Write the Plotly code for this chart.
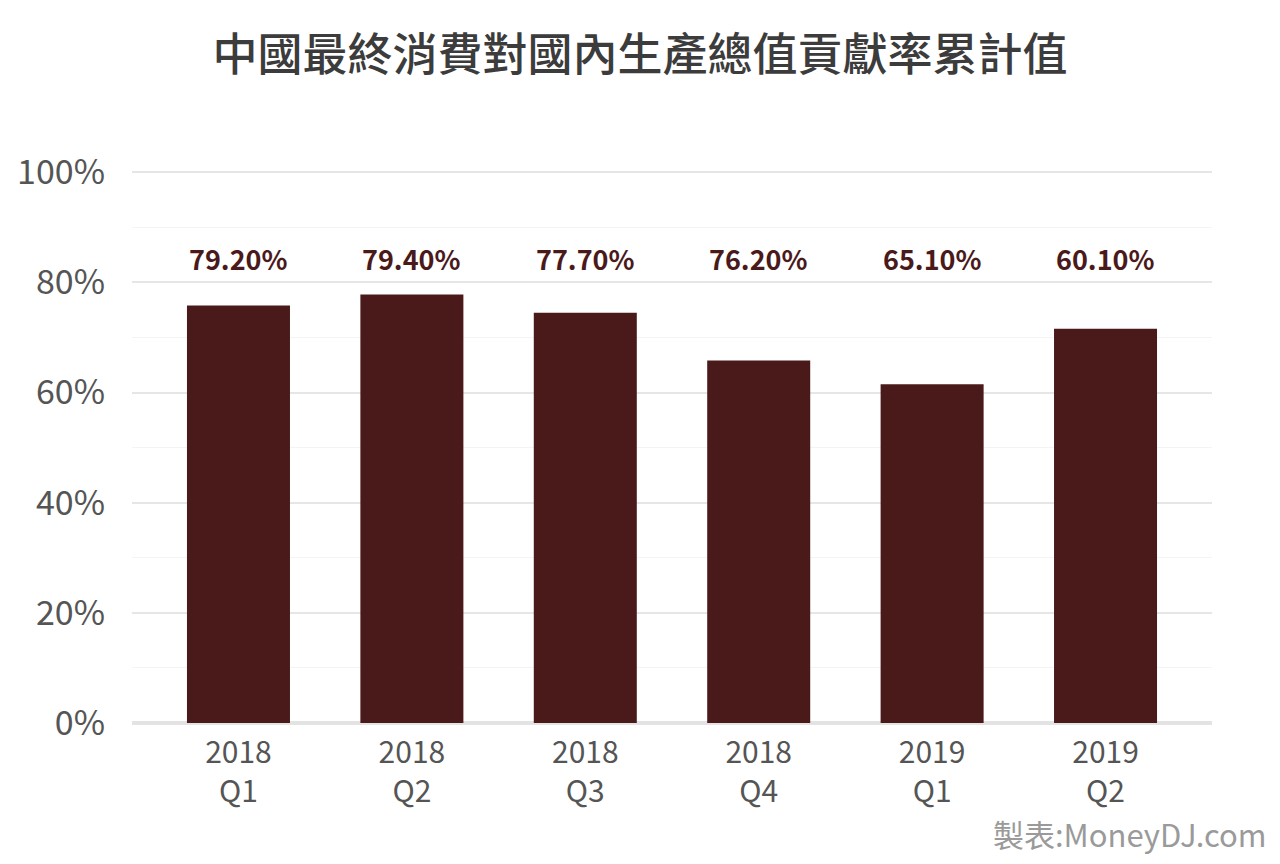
import plotly.graph_objects as go

categories = ["2018<br>Q1", "2018<br>Q2", "2018<br>Q3", "2018<br>Q4", "2019<br>Q1", "2019<br>Q2"]
bar_values = [75.8, 77.8, 74.5, 65.8, 61.5, 71.6]
label_texts = ["79.20%", "79.40%", "77.70%", "76.20%", "65.10%", "60.10%"]
label_y = 84.4
y_ticks = [0, 20, 40, 60, 80, 100]
y_tick_labels = ["0%", "20%", "40%", "60%", "80%", "100%"]

FONT = "Noto Sans CJK TC"
BAR_COLOR = "#4a1a1b"

fig = go.Figure()
fig.add_trace(go.Bar(
    x=list(range(len(categories))), y=bar_values,
    marker=dict(color=BAR_COLOR, line=dict(width=0)),
    width=0.594, hoverinfo="skip",
))

for i, t in enumerate(label_texts):
    fig.add_annotation(x=i, y=label_y, text=f"<b>{t}</b>", showarrow=False,
                       font=dict(family=FONT, size=27, color=BAR_COLOR),
                       xref="x", yref="y")

fig.add_annotation(text="製表:MoneyDJ.com", xref="paper", yref="paper",
                   x=1.0 + (1268 - 1212) / 1080, y=-(833 - 723) / 553,
                   xanchor="right", yanchor="middle", showarrow=False,
                   font=dict(family=FONT, size=31, color="#9a9a9a"))

fig.update_layout(
    width=1280, height=864,
    margin=dict(l=132, r=68, t=170, b=141),
    paper_bgcolor="white", plot_bgcolor="white",
    showlegend=False,
    font=dict(family=FONT, color="#555555"),
    title=dict(text="中國最終消費對國內生產總值貢獻率累計值", x=0.5, xanchor="center",
               y=1 - 55 / 864, yanchor="middle",
               font=dict(family=FONT, size=45, color="#3c3c3c", weight=500)),
    xaxis=dict(
        range=[-0.614, 5.614],
        tickmode="array", tickvals=list(range(len(categories))), ticktext=categories,
        tickfont=dict(family=FONT, size=30, color="#555555"),
        showgrid=False, zeroline=False, showline=False, ticks="",
        ticklabelstandoff=9,
        fixedrange=True,
    ),
    yaxis=dict(
        range=[0, 100.4],
        tickmode="array", tickvals=y_ticks, ticktext=y_tick_labels,
        tickfont=dict(family=FONT, size=34, color="#555555"),
        showgrid=True, gridcolor="#e6e6e6", gridwidth=1.5,
        minor=dict(dtick=10, showgrid=True, gridcolor="#f4f4f4", gridwidth=1),
        zeroline=True, zerolinecolor="#e3e3e3", zerolinewidth=4,
        showline=False, ticks="", ticklabelstandoff=26,
        fixedrange=True,
    ),
)

fig.write_html("out.html", config={"displayModeBar": False},
               post_script="document.body.style.margin='0';")
